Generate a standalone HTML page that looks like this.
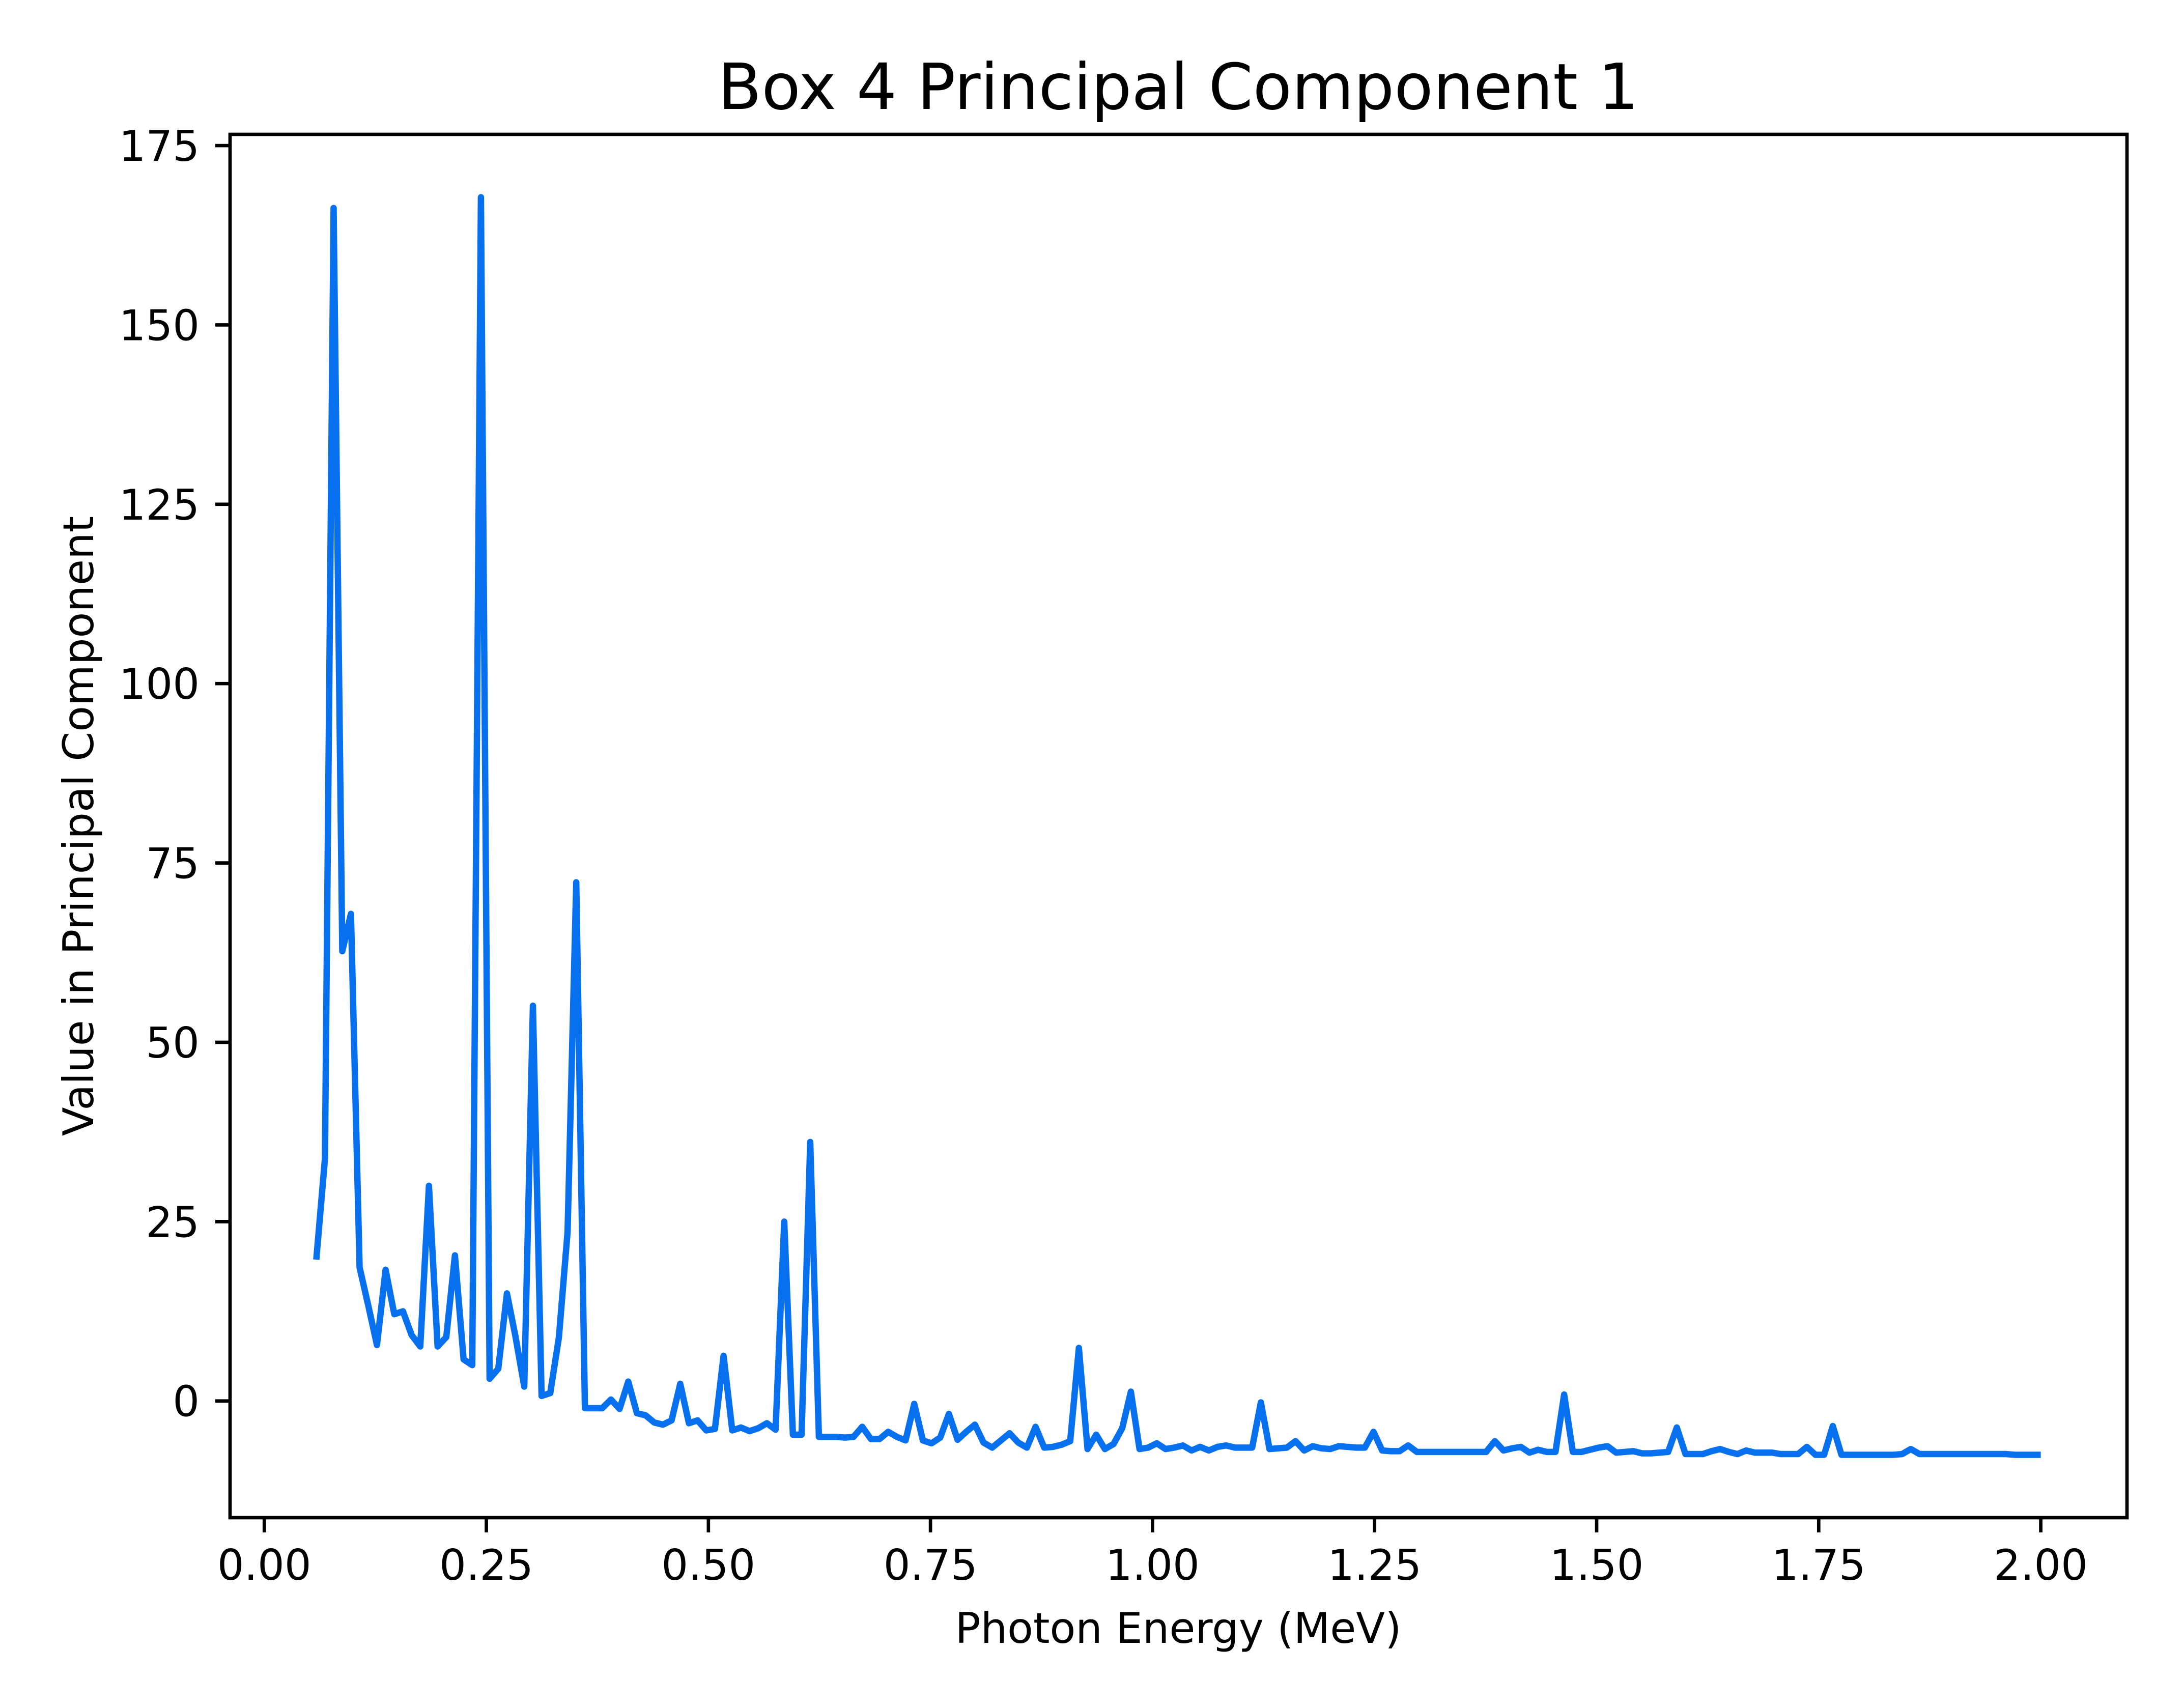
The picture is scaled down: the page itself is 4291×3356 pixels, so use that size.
<!DOCTYPE html>
<html><head><meta charset="utf-8"><style>
html,body{margin:0;padding:0;background:#fff;}
svg{display:block;font-family:"DejaVu Sans","Liberation Sans",sans-serif;}
</style></head><body>
<svg id="chart" width="4291" height="3356" viewBox="0 0 4291 3356" xmlns="http://www.w3.org/2000/svg">
<rect x="0" y="0" width="4291" height="3356" fill="#fff"/>
<text x="2315" y="214" font-size="125" text-anchor="middle" fill="#000">Box 4 Principal Component 1</text>
<g id="plot"></g>
<text x="2315" y="3228" font-size="83" text-anchor="middle" fill="#000">Photon Energy (MeV)</text>
<text transform="translate(183,1623) rotate(-90)" font-size="83" text-anchor="middle" fill="#000">Value in Principal Component</text>
</svg>
<script>
const binStart = 6;
const binWidth = 2 / 205;
const componentValues = [
19.7,33.8,166.3,62.7,67.9,18.6,13.3,7.8,18.3,12.1,
12.5,9.2,7.6,30.0,7.6,8.9,20.3,5.8,5.0,167.8,
3.1,4.5,15.0,8.9,2.0,55.1,0.7,1.1,8.9,23.6,
72.3,-1.0,-1.0,-1.0,0.2,-1.1,2.7,-1.7,-2.0,-3.0,
-3.3,-2.7,2.4,-3.1,-2.7,-4.1,-3.9,6.3,-4.1,-3.7,
-4.2,-3.8,-3.1,-4.0,25.0,-4.7,-4.7,36.1,-5.0,-5.0,
-5.0,-5.1,-5.0,-3.6,-5.3,-5.3,-4.3,-5.0,-5.5,-0.4,
-5.5,-5.9,-5.1,-1.8,-5.4,-4.3,-3.3,-5.8,-6.5,-5.5,
-4.5,-5.8,-6.5,-3.6,-6.5,-6.4,-6.1,-5.6,7.4,-6.7,
-4.7,-6.7,-6.0,-3.8,1.3,-6.7,-6.5,-5.9,-6.7,-6.5,
-6.2,-6.9,-6.4,-6.9,-6.4,-6.2,-6.5,-6.5,-6.5,-0.2,
-6.7,-6.6,-6.5,-5.6,-6.9,-6.3,-6.6,-6.7,-6.3,-6.4,
-6.5,-6.5,-4.3,-6.9,-7.0,-7.0,-6.2,-7.1,-7.1,-7.1,
-7.1,-7.1,-7.1,-7.1,-7.1,-7.1,-5.6,-6.9,-6.6,-6.4,
-7.2,-6.8,-7.1,-7.1,0.9,-7.1,-7.1,-6.8,-6.5,-6.3,
-7.2,-7.1,-7.0,-7.3,-7.3,-7.2,-7.1,-3.7,-7.4,-7.4,
-7.4,-7.0,-6.7,-7.1,-7.4,-6.9,-7.2,-7.2,-7.2,-7.4,
-7.4,-7.4,-6.4,-7.5,-7.5,-3.5,-7.5,-7.5,-7.5,-7.5,
-7.5,-7.5,-7.5,-7.4,-6.7,-7.4,-7.4,-7.4,-7.4,-7.4,
-7.4,-7.4,-7.4,-7.4,-7.4,-7.4,-7.5,-7.5,-7.5,-7.5
];
const xTickValues = [0,0.25,0.5,0.75,1.0,1.25,1.5,1.75,2.0];
const xTickLabels = ["0.00","0.25","0.50","0.75","1.00","1.25","1.50","1.75","2.00"];
const yTickValues = [0,25,50,75,100,125,150,175];
const yTickLabels = ["0","25","50","75","100","125","150","175"];

const NS = "http://www.w3.org/2000/svg";
const plot = document.getElementById("plot");
const L = 452, R = 4179, T = 264, B = 2982;
const energies = componentValues.map((v, i) => (binStart + i) * binWidth);
const xmin0 = Math.min(...energies), xmax0 = Math.max(...energies);
const ymin0 = Math.min(...componentValues), ymax0 = Math.max(...componentValues);
const xm = (xmax0 - xmin0) * 0.05, ym = (ymax0 - ymin0) * 0.05;
const xLo = xmin0 - xm, xHi = xmax0 + xm, yLo = ymin0 - ym, yHi = ymax0 + ym;
function xs(v) { return L + (v - xLo) / (xHi - xLo) * (R - L); }
function ys(v) { return B - (v - yLo) / (yHi - yLo) * (B - T); }
function mk(tag, attrs) {
  const e = document.createElementNS(NS, tag);
  for (const k in attrs) e.setAttribute(k, attrs[k]);
  return e;
}
const d = componentValues.map((v, i) => (i ? "L" : "M") + xs(energies[i]).toFixed(2) + "," + ys(v).toFixed(2)).join("");
const line = mk("path", {d: d, fill: "none", stroke: "#0670ef", "stroke-width": 12.5, "stroke-linejoin": "round", "stroke-linecap": "butt"});


plot.appendChild(line);
const frame = mk("rect", {x: L, y: T, width: R - L, height: B - T, fill: "none", stroke: "#000", "stroke-width": 6.7});


plot.appendChild(frame);
xTickValues.forEach((v, i) => {
  const x = xs(v);
  const t = mk("line", {x1: x, x2: x, y1: B, y2: B + 29, stroke: "#000", "stroke-width": 6.7});
  
  
  plot.appendChild(t);
  const lb = mk("text", {x: x, y: 3104, "font-size": 83, "text-anchor": "middle", fill: "#000"});
  lb.textContent = xTickLabels[i];
  
  
  plot.appendChild(lb);
});
yTickValues.forEach((v, i) => {
  const y = ys(v);
  const t = mk("line", {x1: L - 29, x2: L, y1: y, y2: y, stroke: "#000", "stroke-width": 6.7});
  
  
  plot.appendChild(t);
  const lb = mk("text", {x: 392, y: y + 30, "font-size": 83, "text-anchor": "end", fill: "#000"});
  lb.textContent = yTickLabels[i];
  
  
  plot.appendChild(lb);
});
</script>
</body></html>
